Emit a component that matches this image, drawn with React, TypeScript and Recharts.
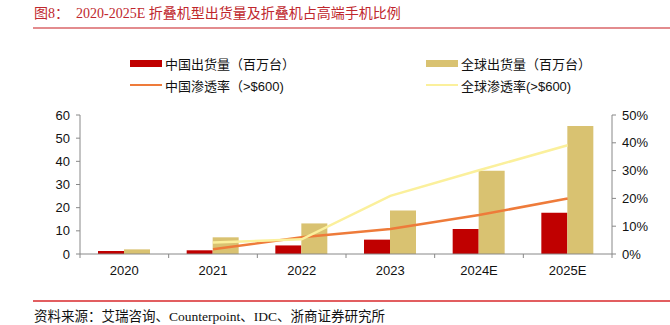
import React from 'react';
import { ComposedChart, Bar, Line, XAxis, YAxis, Legend } from 'recharts';

const categories = ['2020', '2021', '2022', '2023', '2024E', '2025E'];
const chinaShipments = [1.3, 1.6, 3.7, 6.2, 10.8, 17.8];
const globalShipments = [2.0, 7.2, 13.2, 18.8, 35.9, 55.2];
const chinaRate = [null, 1.7, 6.0, 9.0, 14.0, 20.0];
const globalRate = [null, 4.1, 5.3, 20.9, 30.1, 39.1];
const leftTicks = [0, 10, 20, 30, 40, 50, 60];
const rightTicks = [0, 10, 20, 30, 40, 50];

const seriesNames = {
  chinaShip: '中国出货量（百万台）',
  globalShip: '全球出货量（百万台）',
  chinaRate: '中国渗透率（>$600)',
  globalRate: '全球渗透率(>$600)',
};

const data = categories.map((c, i) => ({
  name: c,
  chinaShip: chinaShipments[i],
  globalShip: globalShipments[i],
  chinaRate: chinaRate[i],
  globalRate: globalRate[i],
}));

const RED = '#C00000';
const GOLD = '#D9C271';
const ORANGE = '#EE7B3A';
const YELLOW = '#FBF09C';
const AXIS = '#888888';
const FONT = '"Liberation Sans", Arial, "Noto Sans CJK SC", sans-serif';

const W = 670;
const H = 325;
const PLOT_LEFT = 80;
const PLOT_RIGHT = 612;
const PLOT_TOP = 115;
const PLOT_BOTTOM = 254;
const LEFT_AXIS_W = 40;
const RIGHT_AXIS_W = 50;
const X_AXIS_H = 30;
const LEGEND_TOP = 48;
const LEGEND_H = 50;

const half = (PLOT_RIGHT - PLOT_LEFT) / categories.length / 2;

const XTick = (props: any) => {
  const { x, y, payload, index } = props;
  return (
    <g>
      {index === 0 && <line x1={x - half} x2={x - half} y1={y} y2={y + 4} stroke={AXIS} strokeWidth={1} />}
      <line x1={x + half} x2={x + half} y1={y} y2={y + 4} stroke={AXIS} strokeWidth={1} />
      <text x={x} y={y + 21} textAnchor="middle" fontSize={13} fill="#111" fontFamily={FONT}>
        {payload.value}
      </text>
    </g>
  );
};

const LegendContent = () => {
  const items = [
    { key: 'chinaShip', type: 'rect', color: RED, x: 130, y: 63 },
    { key: 'globalShip', type: 'rect', color: GOLD, x: 426, y: 63 },
    { key: 'chinaRate', type: 'line', color: ORANGE, x: 130, y: 85 },
    { key: 'globalRate', type: 'line', color: YELLOW, x: 426, y: 85 },
  ];
  return (
    <div style={{ position: 'relative', width: W, height: LEGEND_H }}>
      {items.map((it) => (
        <div
          key={it.key}
          style={{
            position: 'absolute',
            left: it.x,
            top: it.y - LEGEND_TOP - 9,
            height: 18,
            display: 'flex',
            alignItems: 'center',
            whiteSpace: 'nowrap',
            fontFamily: FONT,
            fontSize: 13,
            color: '#111',
          }}
        >
          <span
            style={{
              display: 'inline-block',
              width: 32,
              height: it.type === 'rect' ? 7 : 2.5,
              background: it.color,
              marginRight: 3,
            }}
          />
          {(seriesNames as any)[it.key]}
        </div>
      ))}
    </div>
  );
};

export default function App() {
  return (
    <div style={{ position: 'absolute', left: 0, top: 0, width: W, height: H, background: '#fff', overflow: 'hidden' }}>
      <div
        style={{
          position: 'absolute',
          left: 34,
          top: 5,
          fontFamily: '"Liberation Serif", "Noto Sans CJK SC", serif',
          fontSize: 14,
          color: '#C0272D',
          whiteSpace: 'pre',
          lineHeight: '18px',
        }}
      >
        图8：  2020-2025E 折叠机型出货量及折叠机占高端手机比例
      </div>
      <div style={{ position: 'absolute', left: 33, top: 26.5, width: W - 33, height: 2, background: '#E38C8E' }} />
      <div style={{ position: 'absolute', left: 33, top: 300, width: W - 33, height: 1.5, background: '#E25E60' }} />
      <div
        style={{
          position: 'absolute',
          left: 34,
          top: 308,
          fontFamily: '"Liberation Serif", "Noto Sans CJK SC", serif',
          fontSize: 13.5,
          color: '#111',
          whiteSpace: 'pre',
          lineHeight: '17px',
        }}
      >
        资料来源：艾瑞咨询、Counterpoint、IDC、浙商证券研究所
      </div>
      <div style={{ position: 'absolute', left: 0, top: 0 }}>
        <ComposedChart
          width={W}
          height={H}
          data={data}
          barSize={26}
          barGap={0}
          margin={{
            top: PLOT_TOP - LEGEND_H,
            right: W - PLOT_RIGHT - RIGHT_AXIS_W,
            bottom: H - PLOT_BOTTOM - X_AXIS_H,
            left: PLOT_LEFT - LEFT_AXIS_W,
          }}
        >
          <Legend
            content={<LegendContent />}
            verticalAlign="top"
            wrapperStyle={{ position: 'absolute', left: 0, top: LEGEND_TOP, width: W, height: LEGEND_H }}
          />
          <XAxis
            dataKey="name"
            height={X_AXIS_H}
            stroke={AXIS}
            tickLine={false}
            tickSize={0}
            tickMargin={0}
            tick={<XTick />}
            interval={0}
          />
          <YAxis
            yAxisId="left"
            width={LEFT_AXIS_W}
            domain={[0, 60]}
            ticks={leftTicks}
            stroke={AXIS}
            tickSize={4}
            tickMargin={6}
            tick={{ fontSize: 13, fill: '#111', fontFamily: FONT }}
            interval={0}
          />
          <YAxis
            yAxisId="right"
            orientation="right"
            width={RIGHT_AXIS_W}
            domain={[0, 50]}
            ticks={rightTicks}
            stroke={AXIS}
            tickSize={4}
            tickMargin={6}
            tickFormatter={(v: number) => `${v}%`}
            tick={{ fontSize: 13, fill: '#111', fontFamily: FONT }}
            interval={0}
          />
          <Bar yAxisId="left" dataKey="chinaShip" name={seriesNames.chinaShip} fill={RED} isAnimationActive={false} />
          <Bar yAxisId="left" dataKey="globalShip" name={seriesNames.globalShip} fill={GOLD} isAnimationActive={false} />
          <Line
            yAxisId="right"
            dataKey="chinaRate"
            name={seriesNames.chinaRate}
            stroke={ORANGE}
            strokeWidth={2.5}
            dot={false}
            type="linear"
            isAnimationActive={false}
          />
          <Line
            yAxisId="right"
            dataKey="globalRate"
            name={seriesNames.globalRate}
            stroke={YELLOW}
            strokeWidth={2.5}
            dot={false}
            type="linear"
            isAnimationActive={false}
          />
        </ComposedChart>
      </div>
    </div>
  );
}
